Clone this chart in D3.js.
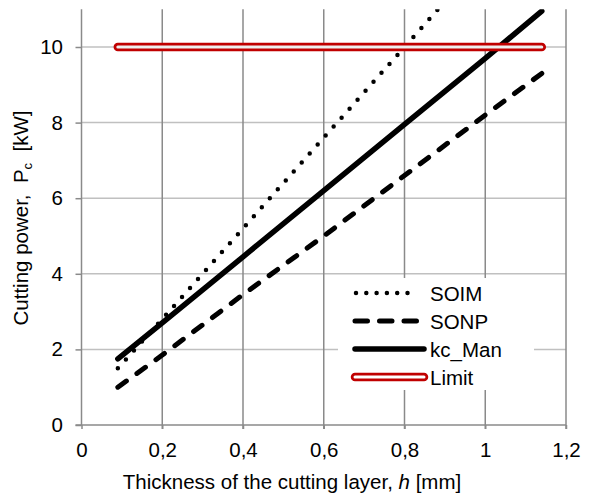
<!DOCTYPE html>
<html>
<head>
<meta charset="utf-8">
<script src="https://cdn.jsdelivr.net/npm/d3@7"></script>
<style>
  body { margin: 0; background: #fff; }
  svg { font-family: "Liberation Sans", Arial, sans-serif; }
</style>
</head>
<body>
<div id="chart"></div>
<script>
// thickness of the cutting layer h [mm]
var hValues = [0.09, 0.2, 0.4, 0.6, 0.8, 1.0, 1.14];
// cutting power Pc [kW]
var soim = [1.5, 2.8, 5.2, 7.6, 10.0, 12.4, 14.1];
var sonp = [1.0, 1.85, 3.45, 5.0, 6.6, 8.2, 9.3];
var kcMan = [1.75, 2.7, 4.45, 6.2, 7.95, 9.7, 10.95];
var limit = [10, 10, 10, 10, 10, 10, 10];

var seriesNames = ["SOIM", "SONP", "kc_Man", "Limit"];
var xTicks = [0, 0.2, 0.4, 0.6, 0.8, 1, 1.2];
var yTicks = [0, 2, 4, 6, 8, 10];

var w = 590, h = 497;
var fs = 20.5;

var svg = d3.select("#chart").append("svg")
  .attr("width", w)
  .attr("height", h);

var x = d3.scaleLinear().domain([0, 1.2]).range([81.5, 566]);
var y = d3.scaleLinear().domain([0, 11]).range([425, 9.2]);

var fmt = function(d) { return String(d).replace(".", ","); };

// gridlines
svg.append("g").selectAll("line")
  .data(yTicks.slice(1))
  .enter().append("line")
  .attr("x1", x(0)).attr("x2", x(1.2))
  .attr("y1", function(d) { return y(d); })
  .attr("y2", function(d) { return y(d); })
  .attr("stroke", "#c0c0c0").attr("stroke-width", 1.5);

svg.append("g").selectAll("line")
  .data(xTicks.slice(1))
  .enter().append("line")
  .attr("x1", function(d) { return x(d); })
  .attr("x2", function(d) { return x(d); })
  .attr("y1", y(11)).attr("y2", y(0) + 4)
  .attr("stroke", "#8a8a8a").attr("stroke-width", 1.5);

// axes
var xAxis = svg.append("g")
  .attr("transform", "translate(0," + y(0) + ")")
  .call(d3.axisBottom(x).tickValues(xTicks).tickFormat(fmt).tickSize(4).tickPadding(13));
xAxis.select(".domain").attr("d", "M" + (x(0) - 6) + ",0H" + x(1.2))
  .attr("stroke", "#8a8a8a").attr("stroke-width", 1.5);

var yAxis = svg.append("g")
  .attr("transform", "translate(" + x(0) + ",0)")
  .call(d3.axisLeft(y).tickValues(yTicks).tickSize(6).tickPadding(12.5));
yAxis.select(".domain").attr("d", "M0," + y(0) + "V" + y(11))
  .attr("stroke", "#8a8a8a").attr("stroke-width", 1.5);

svg.selectAll(".tick line").attr("stroke", "#8a8a8a").attr("stroke-width", 1.5);
svg.selectAll(".tick text").attr("font-size", fs).attr("fill", "#000")
  .attr("font-family", "Liberation Sans, Arial, sans-serif");

// axis titles
var xt = svg.append("text")
  .attr("x", 292).attr("y", 489)
  .attr("text-anchor", "middle")
  .attr("font-size", fs)
  .style("white-space", "pre");
xt.append("tspan").text("Thickness of the cutting layer, ");
xt.append("tspan").attr("font-style", "italic").text("h");
xt.append("tspan").text(" [mm]");

var yt = svg.append("text")
  .attr("transform", "translate(28,218) rotate(-90)")
  .attr("text-anchor", "middle")
  .attr("font-size", fs)
  .style("white-space", "pre");
yt.append("tspan").text("Cutting power,  P");
yt.append("tspan").attr("font-size", 13).attr("dy", 4).text("c");
yt.append("tspan").attr("dy", -4).text("  [kW]");

// clip for series
svg.append("clipPath").attr("id", "plotClip")
  .append("rect")
  .attr("x", x(0)).attr("y", y(11))
  .attr("width", x(1.2) - x(0)).attr("height", y(0) - y(11));

var line = d3.line()
  .x(function(d) { return x(d[0]); })
  .y(function(d) { return y(d[1]); });

function pairs(vals) {
  return hValues.map(function(v, i) { return [v, vals[i]]; });
}

var plot = svg.append("g").attr("clip-path", "url(#plotClip)");

plot.append("path").attr("d", line(pairs(sonp)))
  .attr("fill", "none").attr("stroke", "#000").attr("stroke-width", 5)
  .attr("stroke-linecap", "round").attr("stroke-dasharray", "10.5 13");

plot.append("path").attr("d", line(pairs(soim)))
  .attr("fill", "none").attr("stroke", "#000").attr("stroke-width", 4.5)
  .attr("stroke-linecap", "round").attr("stroke-dasharray", "0 12");

plot.append("path").attr("d", line(pairs(kcMan)))
  .attr("fill", "none").attr("stroke", "#000").attr("stroke-width", 5.5)
  .attr("stroke-linecap", "round");

plot.append("path").attr("d", line(pairs(limit)))
  .attr("fill", "none").attr("stroke", "#c00000").attr("stroke-width", 8.5)
  .attr("stroke-linecap", "round");
plot.append("path").attr("d", line(pairs(limit)))
  .attr("fill", "none").attr("stroke", "#eeeeee").attr("stroke-width", 3)
  .attr("stroke-linecap", "round");

// legend
var legend = svg.append("g");
legend.append("rect")
  .attr("x", 338).attr("y", 278).attr("width", 196).attr("height", 112)
  .attr("fill", "#fff");

var rows = [293, 321, 349, 377];
var styles = [
  { w: 4.5, dash: "0 10.3", color: "#000", x1: 356, x2: 417 },
  { w: 5, dash: "12.5 12", color: "#000", x1: 355, x2: 418 },
  { w: 5.5, dash: null, color: "#000", x1: 355, x2: 424 },
  { w: 8.5, dash: null, color: "#c00000", x1: 355, x2: 424 }
];
seriesNames.forEach(function(name, i) {
  var s = styles[i];
  var ln = legend.append("line")
    .attr("x1", s.x1).attr("x2", s.x2)
    .attr("y1", rows[i]).attr("y2", rows[i])
    .attr("stroke", s.color).attr("stroke-width", s.w)
    .attr("stroke-linecap", "round");
  if (s.dash) ln.attr("stroke-dasharray", s.dash);
  if (name === "Limit") {
    legend.append("line")
      .attr("x1", s.x1).attr("x2", s.x2)
      .attr("y1", rows[i]).attr("y2", rows[i])
      .attr("stroke", "#fff").attr("stroke-width", 3)
      .attr("stroke-linecap", "round");
  }
  legend.append("text")
    .attr("x", 430).attr("y", rows[i] + 7.5)
    .attr("font-size", fs)
    .text(name);
});
</script>
</body>
</html>
